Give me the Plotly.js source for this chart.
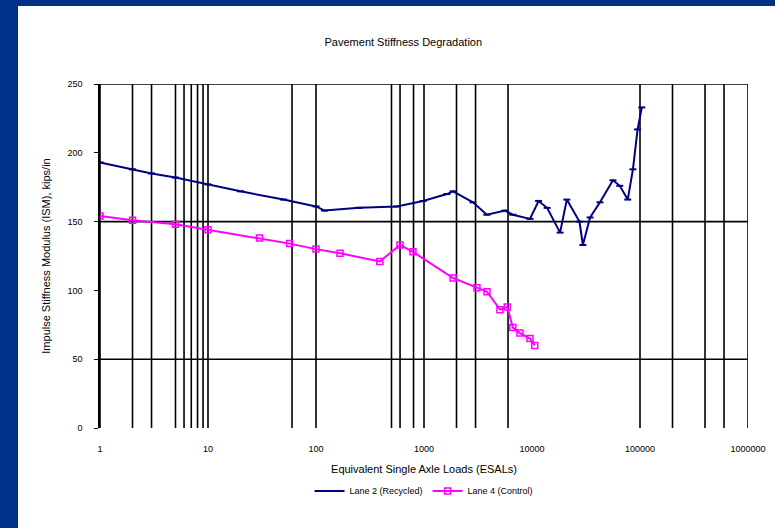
<!DOCTYPE html>
<html>
<head>
<meta charset="utf-8">
<script src="https://cdn.plot.ly/plotly-3.0.1.min.js"></script>
<style>
  html, body { margin:0; padding:0; width:775px; height:528px; background:#00318a; overflow:hidden; }
  #card { position:absolute; left:18px; top:6px; width:757px; height:522px; background:#ffffff; }
</style>
</head>
<body>
<div id="card"></div>
<script>
// ---- data ----
const lane2X = [1, 2, 3, 5, 10, 20, 50, 100, 120, 250, 560, 980, 1630, 1860, 2840, 3820, 5630, 6640, 9580, 11500, 13800, 18200, 21000, 27500, 29600, 34500, 42600, 56200, 65000, 77000, 86000, 95000, 104000];
const lane2Y = [193, 188, 185, 182, 177, 172, 166, 161, 158, 160, 161, 165, 170, 172, 164, 155, 158, 155, 152, 165, 160, 142, 166, 150, 133, 153, 164, 180, 176, 166, 188, 217, 233];
const lane4X = [1, 2, 5, 10, 30, 57, 100, 167, 390, 600, 790, 1860, 3090, 3830, 5050, 5900, 6650, 7740, 9580, 10600];
const lane4Y = [154, 151, 148, 144, 138, 134, 130, 127, 121, 133, 128, 109, 102, 99, 86, 88, 73, 69, 65, 60];
const seriesNames = ["Lane 2 (Recycled)", "Lane 4 (Control)"];
const xTickVals = [1, 10, 100, 1000, 10000, 100000, 1000000];
const xTickText = ["1", "10", "100", "1000", "10000", "100000", "1000000"];
const yTickVals = [0, 50, 100, 150, 200, 250];
const gridX = [1, 2, 3, 5, 6, 7, 8, 9, 10, 60, 100, 500, 600, 800, 1000, 2000, 3000, 6000, 100000, 200000, 400000, 600000, 1000000];
const gridY = [50, 150, 250];

const FONT = "Liberation Sans, Arial, sans-serif";

const shapes = [];
gridX.forEach(v => shapes.push({type:'line', xref:'x', yref:'y', x0:v, x1:v, y0:0, y1:250, line:{color:'#000', width:1.6}, layer:'below'}));
gridY.forEach(v => shapes.push({type:'line', xref:'paper', yref:'y', x0:0, x1:1, y0:v, y1:v, line:{color:'#000', width:1.6}, layer:'below'}));

const traces = [
  {x: lane2X, y: lane2Y, name: seriesNames[0], type:'scatter', mode:'lines+markers',
   line:{color:'#000080', width:2}, marker:{symbol:'line-ew', size:5, line:{color:'#000080', width:2}, color:'#000080'}},
  {x: lane4X, y: lane4Y, name: seriesNames[1], type:'scatter', mode:'lines+markers',
   line:{color:'#ff00ff', width:2}, marker:{symbol:'square-open', size:6, line:{color:'#ff00ff', width:1.5}, color:'#ff00ff'}}
];

const layout = {
  width:757, height:522,
  paper_bgcolor:'#ffffff', plot_bgcolor:'#ffffff',
  margin:{l:82, r:27, t:78, b:100},
  font:{family:FONT, size:10, color:'#000'},
  title:{text:'Pavement Stiffness Degradation', font:{family:FONT, size:11, color:'#000'}, x:0.509, xanchor:'center', y:0.931, yanchor:'middle'},
  xaxis:{type:'log', range:[0,6], tickvals:xTickVals, ticktext:xTickText, showgrid:false, zeroline:false,
         showline:false, ticks:'', ticklabelstandoff:14, tickfont:{size:9},
         title:{text:'Equivalent Single Axle Loads (ESALs)', font:{size:11}, standoff:12}, automargin:false},
  yaxis:{range:[0,250], tickvals:yTickVals, showgrid:false, zeroline:false, showline:true, linecolor:'#000', linewidth:1.6,
         ticks:'outside', ticklen:4, tickcolor:'#000', tickfont:{size:9}, ticklabelstandoff:10,
         title:{text:'Impulse Stiffness Modulus (ISM), kips/in', font:{size:11}, standoff:15}, automargin:false},
  showlegend:true,
  legend:{orientation:'h', x:0.5, xanchor:'center', y:-0.183, yanchor:'middle', font:{size:9}, bgcolor:'rgba(0,0,0,0)'},
  shapes: shapes
};

Plotly.newPlot('card', traces, layout, {displayModeBar:false, staticPlot:true});
</script>
</body>
</html>
